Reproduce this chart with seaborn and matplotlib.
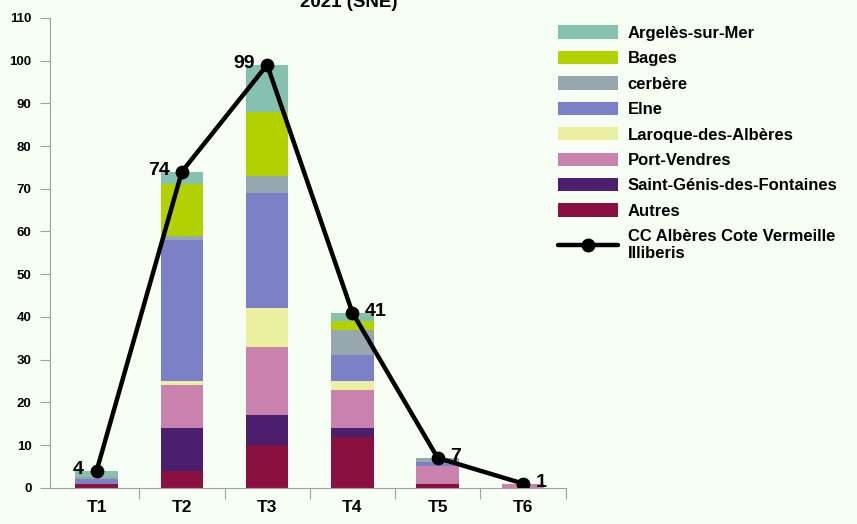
import numpy as np
import pandas as pd
import matplotlib
matplotlib.use("Agg")
import matplotlib.pyplot as plt
import seaborn as sns
from matplotlib.patches import Patch
from matplotlib.lines import Line2D

periods = ["T1", "T2", "T3", "T4", "T5", "T6"]

# stacked layers, bottom to top
autres = [1, 4, 10, 12, 1, 0]
saint_genis = [0, 10, 7, 2, 0, 0]
port_vendres = [0, 10, 16, 9, 4, 1]
laroque = [0, 1, 9, 2, 0, 0]
elne = [1, 33, 27, 6, 1, 0]
cerbere = [0.5, 1, 4, 6, 1, 0]
bages = [0, 12, 15, 2, 0, 0]
argeles = [1.5, 3, 11, 2, 0, 0]

totals = [4, 74, 99, 41, 7, 1]

layer_names = ["Autres", "Saint-Génis-des-Fontaines", "Port-Vendres",
               "Laroque-des-Albères", "Elne", "cerbère", "Bages", "Argelès-sur-Mer"]
layer_colors = ["#8A1040", "#4C1E6E", "#C981AD", "#EAF0A0",
                "#7C80C6", "#96A8AE", "#B3D000", "#85C1AE"]
layers = [autres, saint_genis, port_vendres, laroque, elne, cerbere, bages, argeles]

df = pd.DataFrame({name: vals for name, vals in zip(layer_names, layers)}, index=periods)
cum = df.cumsum(axis=1)

sns.set_style("white")
plt.rcParams["font.family"] = ["Liberation Sans Narrow", "Liberation Sans", "DejaVu Sans"]
plt.rcParams["font.weight"] = "bold"
plt.rcParams["text.color"] = "black"
plt.rcParams["xtick.labelcolor"] = "black"
plt.rcParams["ytick.labelcolor"] = "black"

bg = "#F7FFF5"
fig = plt.figure(figsize=(8.57, 5.24), dpi=100, facecolor=bg)
ax = fig.add_axes([0.058, 0.069, 0.602, 0.897])
ax.set_facecolor(bg)

# draw cumulative bars from the top layer down so each covers the one below
for name, color in zip(layer_names[::-1], layer_colors[::-1]):
    sns.barplot(x=periods, y=cum[name].values, color=color, saturation=1,
                width=0.5, ax=ax, edgecolor="none", linewidth=0)

sns.pointplot(x=periods, y=totals, color="black", ax=ax, markers="o",
              markersize=7.5, linewidth=3.2)

# value labels
offsets = {0: (-9, "right"), 1: (-9, "right"), 2: (-9, "right"),
           3: (9, "left"), 4: (9, "left"), 5: (9, "left")}
for i, v in enumerate(totals):
    dx, ha = offsets[i]
    ax.annotate(str(v), (i, v), xytext=(dx, 1), textcoords="offset points",
                ha=ha, va="center", fontsize=14, fontweight="bold", color="black")

ax.set_ylim(0, 110)
ax.set_xlim(-0.55, 5.5)
ax.set_yticks(range(0, 111, 10))
ax.tick_params(axis="y", length=7, width=0.8, color="#A0A0A0", direction="out",
               labelsize=9.5, pad=6, left=True, labelcolor="black")
ax.tick_params(axis="x", length=0, labelsize=12.5, pad=9, labelcolor="black")
ax.set_xticks(np.arange(len(periods)) + 0.5, minor=True)
ax.tick_params(axis="x", which="minor", length=8, width=0.8, color="#A0A0A0",
               direction="out", bottom=True)
for lab in ax.get_xticklabels() + ax.get_yticklabels():
    lab.set_fontweight("bold")
ax.set_xlabel("")
ax.set_ylabel("")

for s in ["top", "right"]:
    ax.spines[s].set_visible(False)
for s in ["left", "bottom"]:
    ax.spines[s].set_color("#A0A0A0")
    ax.spines[s].set_linewidth(0.8)

fig.text(349 / 857, 1 - 7 / 524, "2021 (SNE)", ha="center", va="baseline",
         fontsize=13.5, fontweight="bold", color="black")

handles = [Patch(facecolor=c, edgecolor="none") for c in layer_colors[::-1]]
labels = layer_names[::-1]
handles.append(Line2D([0], [0], color="black", lw=3.2, marker="o", markersize=9))
labels.append("CC Albères Cote Vermeille\nIlliberis")
leg = fig.legend(handles, labels, loc="upper left", bbox_to_anchor=(0.634, 0.98),
                 frameon=False, handlelength=3.6, handleheight=0.85,
                 labelspacing=0.6, handletextpad=0.55,
                 prop={"weight": "bold", "size": 12})
for t in leg.get_texts():
    t.set_color("black")

fig.savefig("out.png", dpi=100, facecolor=bg)
